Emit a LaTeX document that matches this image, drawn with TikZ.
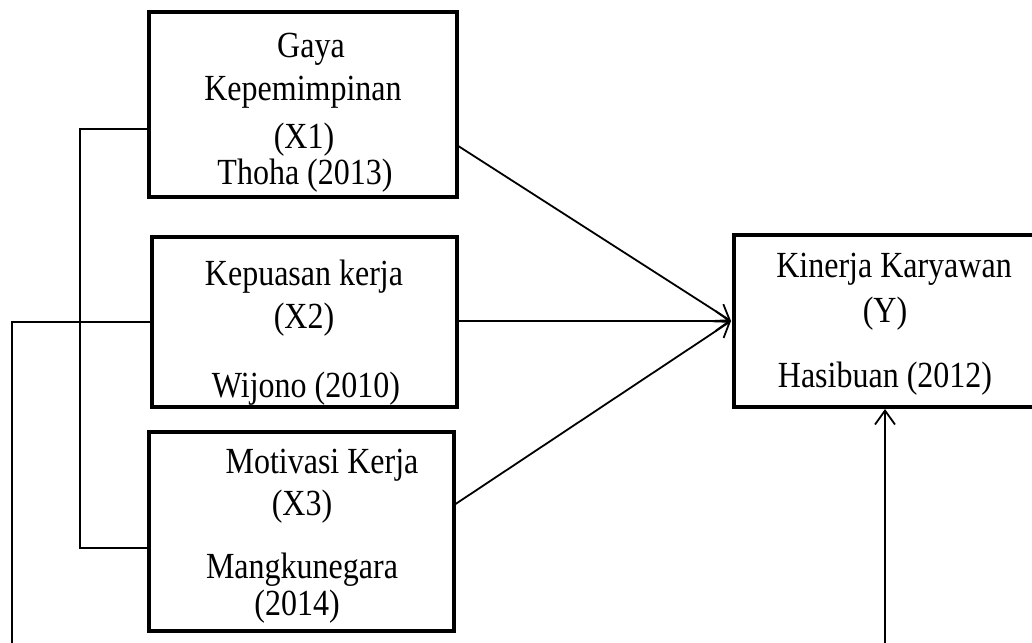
\documentclass[tikz,border=0pt]{standalone}
\usepackage{fontspec}
\usepackage{graphicx}
\setmainfont{Liberation Serif}
\usetikzlibrary{arrows.meta,calc}
\newcommand{\tallt}[1]{\scalebox{1}[1.15]{#1}}
\begin{document}
\begin{tikzpicture}[x=1pt,y=-1pt,
  varbox/.style={draw=black,line width=4.5pt,rectangle,inner sep=0pt,outer sep=0pt,fill=none},
  lbl/.style={anchor=base,inner sep=0pt,font=\fontsize{32}{32}\selectfont},
  conn/.style={draw=black,line width=1.8pt},
  arr/.style={conn,-{Straight Barb[length=14pt,width=20pt,line width=1.8pt]}}]
\clip (0,0) rectangle (1032,642);
\fill[white] (0,0) rectangle (1032,642);
% boxes
\node[varbox,minimum width=308pt,minimum height=185pt] (x1) at (303,104.5) {};
\node[varbox,minimum width=305pt,minimum height=170pt] (x2) at (304.5,322) {};
\node[varbox,minimum width=305pt,minimum height=199pt] (x3) at (301.5,531.5) {};
\node[varbox,minimum width=326pt,minimum height=172pt] (yb) at (897,321) {};
% texts X1
\node[lbl] (t11) at (311,57) {\tallt{Gaya}};
\node[lbl] (t12) at (303,100) {\tallt{Kepemimpinan}};
\node[lbl] (t13) at (304,148) {\tallt{(X1)}};
\node[lbl] (t14) at (305,184) {\tallt{Thoha (2013)}};
% texts X2
\node[lbl] (t21) at (304,285) {\tallt{Kepuasan kerja}};
\node[lbl] (t22) at (304,328) {\tallt{(X2)}};
\node[lbl] (t23) at (306,397) {\tallt{Wijono (2010)}};
% texts X3
\node[lbl] (t31) at (322,473) {\tallt{Motivasi Kerja}};
\node[lbl] (t32) at (302,515) {\tallt{(X3)}};
\node[lbl] (t33) at (302,578) {\tallt{Mangkunegara}};
\node[lbl] (t34) at (297,615) {\tallt{(2014)}};
% texts Y
\node[lbl] (ty1) at (894,277) {\tallt{Kinerja Karyawan}};
\node[lbl] (ty2) at (885,322) {\tallt{(Y)}};
\node[lbl] (ty3) at (885,387) {\tallt{Hasibuan (2012)}};
% coordinates
\coordinate (tip) at ($(yb.west)+(-3,0)$);
\coordinate (lx) at (80,0);
\coordinate (llx) at (12,660);
\coordinate (bot) at (885,660);
% arrows into Y
\draw[arr] ($(x1.north east)!0.72!(x1.south east)$) -- (tip);
\draw[arr] (x2.east |- tip) -- (tip);
\draw[arr] ($(x3.north east)!0.367!(x3.south east)$) -- (tip);
\draw[arr] (bot) -- ($(bot |- yb.south)+(0,2)$);
% left connectors
\coordinate (a1) at ($(x1.north west)!0.632!(x1.south west)$);
\coordinate (a3) at ($(x3.north west)!0.583!(x3.south west)$);
\draw[conn] (a1) -- (lx |- a1) -- (lx |- a3) -- (a3);
\draw[conn] (x2.west) -- (llx |- x2.west) -- (llx);
\end{tikzpicture}
\end{document}
